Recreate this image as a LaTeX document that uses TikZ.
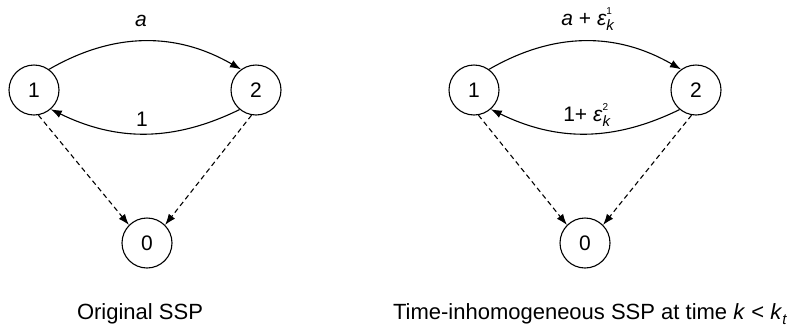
\documentclass[tikz,border=0pt]{standalone}
\usepackage{fontspec}
\setmainfont{Liberation Sans}
\usetikzlibrary{arrows.meta}
\newcommand{\epsk}[1]{\textit{ε}\raisebox{-5pt}{\shortstack[l]{{\fontsize{10}{11}\selectfont #1}\\[2pt]{\fontsize{15}{17}\selectfont\textit{k}}}}}
\begin{document}
\begin{tikzpicture}[x=1pt,y=-1pt,
  state/.style={circle,draw,line width=1.1pt,minimum size=50pt,inner sep=0pt,font=\fontsize{21}{24}\selectfont},
  arc/.style={line width=1.1pt,-{Latex[length=11pt,width=8pt]}},
  dsh/.style={arc,dash pattern=on 5pt off 3.5pt},
  lbl/.style={font=\fontsize{21}{24}\selectfont,inner sep=0pt},
  captxt/.style={font=\fontsize{22}{26}\selectfont,inner sep=0pt,anchor=base}]
\useasboundingbox (0,0) rectangle (795,330);
% left
\node[state] (a1) at (34,90) {1};
\node[state] (a2) at (256,90) {2};
\node[state] (a0) at (147,243) {0};
\draw[arc] (a1.54) to[out=30,in=150] (a2.126);
\draw[arc] (a2.230) to[out=206,in=-26] (a1.311);
\draw[dsh] (a1.-80) -- (a0.135);
\draw[dsh] (a2.-100) -- (a0.45);
\node[lbl] (la) at (141,21) {\textit{a}};
\node[lbl] (l1) at (142,119) {1};
\node[captxt] (c1) at (140,319) {Original SSP};
% right
\node[state] (b1) at (474,90) {1};
\node[state] (b2) at (696,90) {2};
\node[state] (b0) at (585,243) {0};
\draw[arc] (b1.54) to[out=30,in=150] (b2.126);
\draw[arc] (b2.230) to[out=206,in=-26] (b1.311);
\draw[dsh] (b1.-80) -- (b0.135);
\draw[dsh] (b2.-100) -- (b0.45);
\node[lbl] (lb) at (588,19) {\textit{a} + \epsk{1}};
\node[lbl] (l2) at (587,115) {1+ \epsk{2}};
\node[captxt] (c2) at (590,319) {Time-inhomogeneous SSP at time \textit{k} < \textit{k}\raisebox{-5pt}{\fontsize{15}{17}\selectfont\textit{t}}};
\end{tikzpicture}
\end{document}
